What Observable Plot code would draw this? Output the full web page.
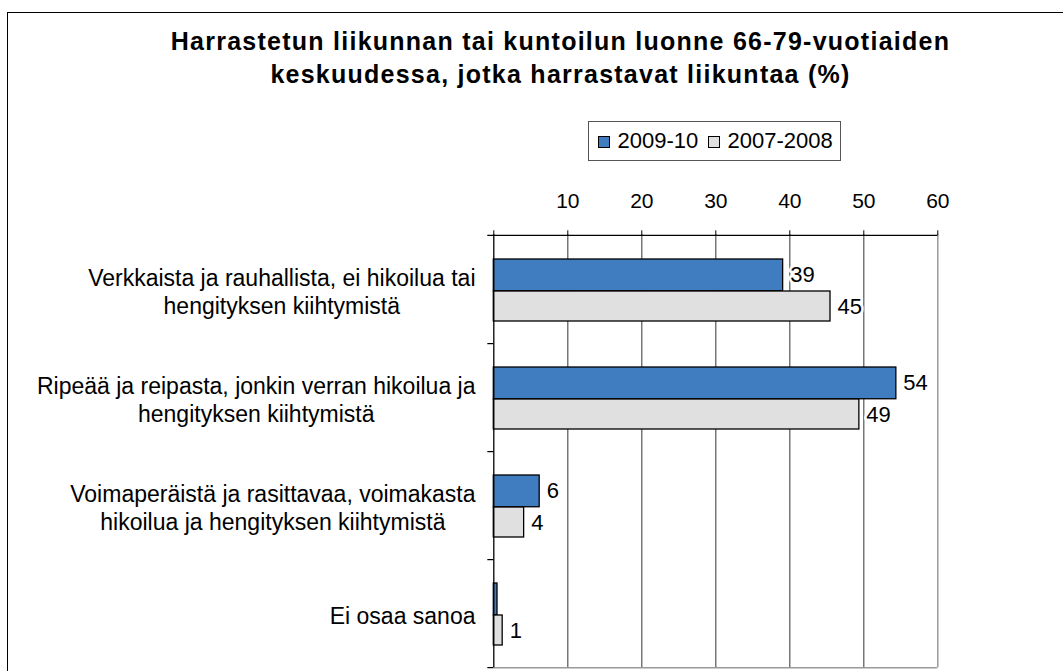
<!DOCTYPE html>
<html>
<head>
<meta charset="utf-8">
<script src="https://cdn.jsdelivr.net/npm/d3@7"></script>
<script src="https://cdn.jsdelivr.net/npm/@observablehq/plot@0.6"></script>
<style>
  html, body { margin: 0; padding: 0; background: #fff; }
  body { width: 1063px; height: 671px; overflow: hidden; position: relative; font-family: "Liberation Sans", Arial, sans-serif; }
  #frame { position: absolute; left: 7px; top: 12px; width: 1200px; height: 800px; border: 1.5px solid #000; }
  #title { position: absolute; left: 0; top: 24.5px; width: 1121px; text-align: center; font-weight: bold; font-size: 25px; line-height: 33px; letter-spacing: 1.25px; color: #000; }
  #legend { position: absolute; left: 587.5px; top: 121px; width: 253.5px; height: 40px; box-sizing: border-box; border: 1px solid #555; background: #fff; }
  .sw { position: absolute; width: 12.5px; height: 12.5px; box-sizing: border-box; border: 1px solid #000; top: 13.7px; }
  .lt { position: absolute; top: 7.7px; font-size: 22px; line-height: 22px; color: #000; white-space: nowrap; }
  #chart { position: absolute; left: 0; top: 170px; }
</style>
</head>
<body>
<div id="frame"></div>
<div id="title">Harrastetun liikunnan tai kuntoilun luonne 66-79-vuotiaiden<br>keskuudessa, jotka harrastavat liikuntaa (%)</div>
<div id="legend"></div>
<div id="chart"></div>
<script>
const categories = [
  "Verkkaista ja rauhallista, ei hikoilua tai\nhengityksen kiihtymistä",
  "Ripeää ja reipasta, jonkin verran hikoilua ja\nhengityksen kiihtymistä",
  "Voimaperäistä ja rasittavaa, voimakasta\nhikoilua ja hengityksen kiihtymistä",
  "Ei osaa sanoa"
];
const seriesNames = ["2009-10", "2007-2008"];
const seriesColors = ["#407DC0", "#E0E0E0"];
const values2009 = [39.1, 54.4, 6.2, 0.5];
const values2007 = [45.5, 49.4, 4.1, 1.2];
const labels2009 = ["39", "54", "6", ""];
const labels2007 = ["45", "49", "4", "1"];
const xTicks = [0, 10, 20, 30, 40, 50, 60];
const xTickLabels = ["", "10", "20", "30", "40", "50", "60"];

// legend
const legend = document.getElementById("legend");
const legendPos = [[9, 29], [119, 139]];
seriesNames.forEach((name, i) => {
  const sw = document.createElement("div");
  sw.className = "sw";
  sw.style.left = legendPos[i][0] + "px";
  sw.style.background = seriesColors[i];
  legend.appendChild(sw);
  const t = document.createElement("div");
  t.className = "lt";
  t.style.left = legendPos[i][1] + "px";
  t.textContent = name;
  legend.appendChild(t);
});

const rows2009 = categories.map((c, i) => ({category: c, value: values2009[i], label: labels2009[i]}));
const rows2007 = categories.map((c, i) => ({category: c, value: values2007[i], label: labels2007[i]}));

const FONT = "Liberation Sans, Arial, sans-serif";
const catFont = 23;
const ctx = document.createElement("canvas").getContext("2d");
ctx.font = `${catFont}px "Liberation Sans"`;
const blockWidth = (s) => d3.max(s.split("\n"), (l) => ctx.measureText(l).width);

const H = 501, mTop = 64.3, mBottom = 3.7;
const band = (H - mTop - mBottom) / categories.length;
const halfBand = band / 2;
const tickLen = 6 / 7.4; // 6px in data units (7.4 px per unit)

const catMarks = categories.map((c) => Plot.text([c], {
  y: (d) => d,
  text: (d) => d,
  frameAnchor: "left",
  textAnchor: "middle",
  lineAnchor: "middle",
  lineHeight: 1.235,
  fontSize: catFont,
  fill: "#000",
  dx: -(18.3 + blockWidth(c) / 2),
  dy: 1.5
}));

const chart = Plot.plot({
  width: 1063,
  height: H,
  marginTop: mTop,
  marginBottom: mBottom,
  marginLeft: 493.3,
  marginRight: 125.7,
  style: {fontFamily: FONT, background: "transparent", overflow: "visible"},
  x: {domain: [0, 60]},
  y: {domain: categories, padding: 0, axis: null},
  marks: [
    Plot.ruleX(xTicks.slice(1, 6), {stroke: "#555", strokeWidth: 1.2}),
    Plot.ruleX([60], {stroke: "#999", strokeWidth: 1.5}),
    Plot.ruleY([categories[categories.length - 1]], {y: (d) => d, dy: halfBand, x1: 0, x2: 60, stroke: "#999", strokeWidth: 1.5}),
    Plot.ruleY(categories, {y: (d) => d, dy: halfBand, x1: -tickLen, x2: 0, stroke: "#000", strokeWidth: 1.2}),
    Plot.ruleY([categories[0]], {y: (d) => d, dy: -halfBand, x1: -tickLen, x2: 60, stroke: "#000", strokeWidth: 1.2}),
    Plot.barX(rows2009, {x: "value", y: "category", fill: seriesColors[0], stroke: "#000", strokeWidth: 1.3, insetTop: 24, insetBottom: band - 56}),
    Plot.barX(rows2007, {x: "value", y: "category", fill: seriesColors[1], stroke: "#000", strokeWidth: 1.3, insetTop: 56, insetBottom: 22}),
    Plot.ruleX([0], {stroke: "#000", strokeWidth: 1.3}),
    Plot.text(rows2009, {x: "value", y: "category", text: "label", dx: 7, dy: 40 - halfBand, textAnchor: "start", fontSize: 22, fill: "#000", stroke: "#fff", strokeWidth: 5}),
    Plot.text(rows2007, {x: "value", y: "category", text: "label", dx: 7, dy: 71.4 - halfBand, textAnchor: "start", fontSize: 22, fill: "#000", stroke: "#fff", strokeWidth: 5}),
    Plot.axisX({anchor: "top", ticks: xTicks, tickFormat: (d, i) => xTickLabels[xTicks.indexOf(d)], tickSize: 5, tickPadding: 22, fontSize: 21, stroke: "#000", fill: "#000", label: null}),
    ...catMarks
  ]
});
document.getElementById("chart").appendChild(chart);
</script>
</body>
</html>
